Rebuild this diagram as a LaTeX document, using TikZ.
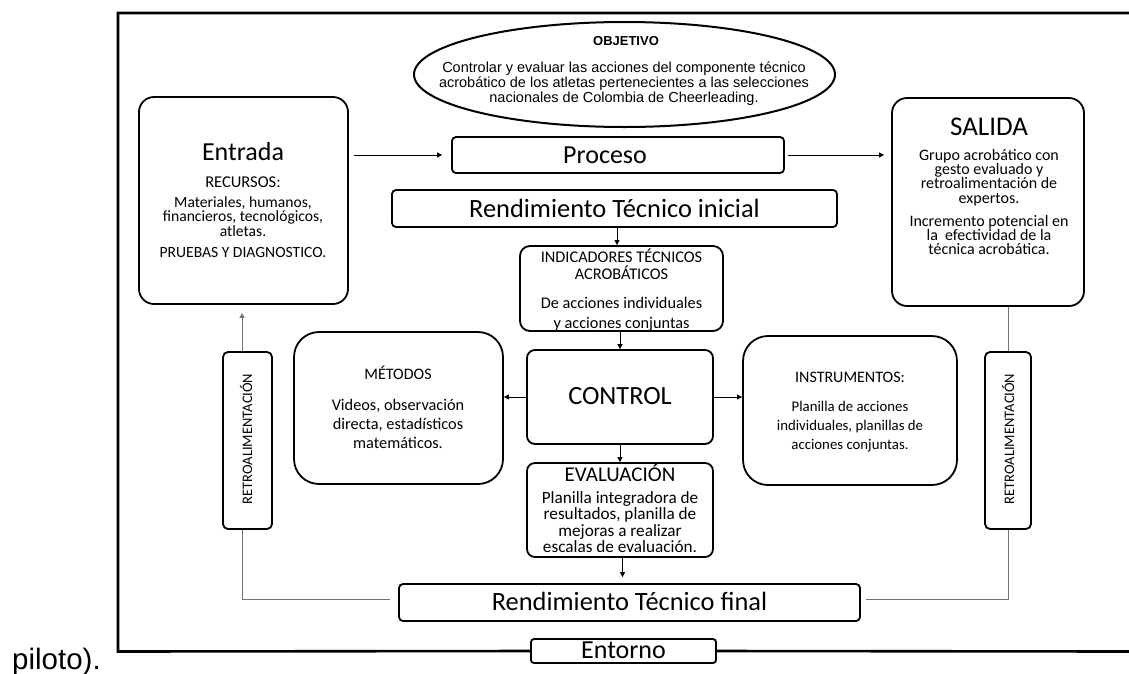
\documentclass[tikz,border=0pt]{standalone}
\usepackage{fontspec}
\setmainfont{Carlito}
\newfontfamily\arialf{Liberation Sans}
\usetikzlibrary{arrows.meta,shapes.geometric}
\newcommand{\fsz}[2]{\fontsize{#1}{#2}\selectfont}
\begin{document}
\begin{tikzpicture}[x=1pt,y=-1pt,
  box/.style={draw, line width=1.8pt, inner sep=0pt},
  txt/.style={inner sep=0pt, align=center},
  arr/.style={-{Triangle[length=5pt,width=5pt]}, line width=0.8pt},
  fb/.style={draw=black!55, line width=0.9pt},
  frame/.style={line width=2.6pt}]
\useasboundingbox (0,0) rectangle (1129,673);

% outer frame
\coordinate (ftr) at (1129,13);
\coordinate (ftl) at (118,13);
\coordinate (fbl) at (118,651.5);
\coordinate (fbr) at (1129,651.5);

% objective ellipse
\node[draw, ellipse, line width=2pt, minimum width=421pt, minimum height=105pt, inner sep=0pt] (obj) at (624.5,74.5) {};
\node[txt, font=\arialf\bfseries\fsz{13}{15}] (objt) at (626,41) {OBJETIVO};
\node[txt, font=\arialf\fsz{14.5}{14.8}] (objb) at (624,83.5) {Controlar y evaluar las acciones del componente técnico\\acrobático de los atletas pertenecientes a las selecciones\\nacionales de Colombia de Cheerleading.};

% Entrada
\node[box, rounded corners=15pt, minimum width=209pt, minimum height=207pt] (entrada) at (243.5,200.5) {};
\node[txt, font=\fsz{26}{28}] (entt) at (243,152) {Entrada};
\node[txt, font=\fsz{16.5}{17}] (ent1) at (243,182) {RECURSOS:};
\node[txt, font=\fsz{15.6}{14.5}] (ent2) at (243,216.5) {Materiales, humanos,\\financieros, tecnológicos,\\atletas.};
\node[txt, font=\fsz{15.6}{16}] (ent3) at (243,252) {PRUEBAS Y DIAGNOSTICO.};

% Proceso
\node[box, rounded corners=4pt, minimum width=332pt, minimum height=36pt] (proceso) at (618,155) {};
\node[txt, font=\fsz{26}{28}] (procesot) at (605,155) {Proceso};

% SALIDA
\node[box, rounded corners=15pt, minimum width=192pt, minimum height=208pt] (salida) at (988,202) {};
\node[txt, font=\fsz{27}{29}] (salt) at (989,127) {SALIDA};
\node[txt, font=\fsz{16}{14.3}] (sal1) at (989,177.5) {Grupo acrobático con\\gesto evaluado y\\retroalimentación de\\expertos.};
\node[txt, font=\fsz{16}{14}] (sal2) at (989,235) {Incremento potencial en\\la\ \ efectividad de la\\técnica acrobática.};

% Rendimiento inicial
\node[box, rounded corners=4pt, minimum width=445pt, minimum height=37pt] (rinicial) at (614.5,208.5) {};
\node[txt, font=\fsz{26.4}{28}] (rinicialt) at (614.5,208.5) {Rendimiento Técnico inicial};

% Indicadores
\node[box, rounded corners=10pt, minimum width=203pt, minimum height=85pt] (indic) at (621.5,288.5) {};
\node[txt, font=\fsz{16.3}{17}] (indic1) at (621.5,264.5) {INDICADORES TÉCNICOS\\ACROBÁTICOS};
\node[txt, font=\fsz{16.3}{20}] (indic2) at (621.5,314) {De acciones individuales\\y acciones conjuntas};

% CONTROL
\node[box, rounded corners=8pt, minimum width=186pt, minimum height=94pt] (control) at (620,397) {};
\node[txt, font=\fsz{26.3}{28}] (controlt) at (620,396) {CONTROL};

% METODOS
\node[box, rounded corners=25pt, minimum width=209pt, minimum height=152pt] (metodos) at (398.5,408) {};
\node[txt, font=\fsz{16}{17}] (met1) at (398,373) {MÉTODOS};
\node[txt, font=\fsz{16.3}{19}] (met2) at (398,424) {Videos, observación\\directa, estadísticos\\matemáticos.};

% INSTRUMENTOS
\node[box, rounded corners=25pt, minimum width=214pt, minimum height=149pt] (instr) at (850,410.5) {};
\node[txt, font=\fsz{16}{17}] (ins1) at (850,377) {INSTRUMENTOS:};
\node[txt, font=\fsz{14.8}{19}] (ins2) at (850,427) {Planilla de acciones\\individuales, planillas de\\acciones conjuntas.};

% EVALUACION
\node[box, rounded corners=8pt, minimum width=186pt, minimum height=94pt] (evalua) at (620,510) {};
\node[txt, font=\fsz{21}{22}] (eva1) at (620,473) {EVALUACIÓN};
\node[txt, font=\fsz{17.2}{16.2}] (eva2) at (620,522) {Planilla integradora de\\resultados, planilla de\\mejoras a realizar\\escalas de evaluación.};

% Rendimiento final
\node[box, rounded corners=4pt, minimum width=461pt, minimum height=37pt] (rfinal) at (629.5,602.5) {};
\node[txt, font=\fsz{26.4}{28}] (rfinalt) at (629.5,601) {Rendimiento Técnico final};

% Entorno
\node[box, rounded corners=3pt, minimum width=185pt, minimum height=24pt] (entorno) at (623.5,651) {};
\node[txt, font=\fsz{26}{27}] (entornot) at (623.5,650) {Entorno};

% Retroalimentacion boxes
\node[box, rounded corners=5pt, minimum width=49pt, minimum height=177pt] (retroL) at (247.5,440.5) {};
\node[txt, rotate=90, font=\fsz{14.5}{16}] (retroLt) at (246,439) {RETROALIMENTACIÓN};
\node[box, rounded corners=5pt, minimum width=46pt, minimum height=177pt] (retroR) at (1008,440.5) {};
\node[txt, rotate=90, font=\fsz{14.5}{16}] (retroRt) at (1008,439) {RETROALIMENTACIÓN};

% piloto
\node[inner sep=0pt, anchor=base west, font=\arialf\fsz{29.5}{31}] (piloto) at (12,669) {piloto).};

% frame
\draw[frame] (ftr) -- (ftl) -- (fbl) -- (entorno.west);
\draw[frame] (entorno.east) -- (fbr);

% connectors
\draw[arr, shorten <=5pt, shorten >=9pt] (entrada.east |- proceso.west) -- (proceso.west);
\draw[arr, shorten <=3pt, shorten >=7pt] (proceso.east) -- (salida.west |- proceso.east);
\draw[arr] ([xshift=2.5pt]rinicial.south) -- ([xshift=2.5pt]rinicial.south |- indic.north);
\draw[arr] (indic.south -| control.north) -- (control.north);
\draw[arr] (control.west) -- (metodos.east |- control.west);
\draw[arr] (control.east) -- (instr.west |- control.east);
\draw[arr] (control.south) -- (evalua.north);
\draw[arr, shorten >=6pt] ([xshift=2.5pt]evalua.south) -- ([xshift=2.5pt]evalua.south |- rfinal.north);
\draw[fb, -{Triangle[length=5pt,width=5pt]}, shorten >=8pt] ([xshift=-5.5pt]retroL.north) -- ([xshift=-5.5pt]retroL.north |- entrada.south);
\draw[fb, shorten >=8pt] ([xshift=-5.5pt]retroL.south) |- ([yshift=3.5pt]rfinal.west);
\draw[fb] (retroR.north) -- (retroR.north |- salida.south);
\draw[fb, shorten >=5pt] (retroR.south) |- ([yshift=3.5pt]rfinal.east);
\end{tikzpicture}
\end{document}
